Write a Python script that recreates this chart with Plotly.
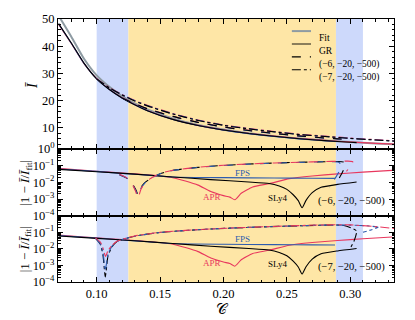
import plotly.graph_objects as go
from plotly.subplots import make_subplots

# shaded compactness bands
blue_band_1 = [0.100, 0.125]
orange_band = [0.125, 0.2887]
blue_band_2 = [0.2887, 0.310]

# ---- top panel: I-bar vs compactness ----
c_fit = [0.07, 0.08, 0.09, 0.10, 0.11, 0.12, 0.13, 0.14, 0.16, 0.18, 0.20, 0.22, 0.24, 0.26, 0.28, 0.30, 0.32, 0.335]
ibar_fit = [51.2, 43.5, 35.4, 29.3, 25.1, 21.7, 19.0, 16.8, 13.45, 11.1, 9.4, 8.05, 7.0, 6.1, 5.4, 4.8, 4.3, 4.0]

c_gr_apr = [0.07, 0.08, 0.09, 0.10, 0.11, 0.12, 0.13, 0.14, 0.16, 0.18, 0.20, 0.22, 0.24, 0.26, 0.28, 0.30, 0.32, 0.335]
ibar_gr_apr = [48.0, 41.0, 33.6, 28.1, 24.2, 21.1, 18.6, 16.4, 13.2, 10.95, 9.3, 8.0, 7.0, 6.15, 5.45, 4.85, 4.35, 4.05]
c_gr_fps = [0.07, 0.08, 0.09, 0.10, 0.11, 0.12, 0.13, 0.14, 0.16, 0.18, 0.20, 0.22, 0.24, 0.26, 0.28, 0.288]
ibar_gr_fps = [48.2, 41.1, 33.7, 28.0, 24.1, 21.0, 18.5, 16.3, 13.1, 10.9, 9.2, 7.9, 6.85, 6.0, 5.3, 5.05]
c_gr_sly = [0.07, 0.08, 0.09, 0.10, 0.11, 0.12, 0.13, 0.14, 0.16, 0.18, 0.20, 0.22, 0.24, 0.26, 0.28, 0.30, 0.305]
ibar_gr_sly = [48.3, 41.2, 33.8, 28.0, 24.1, 21.0, 18.5, 16.35, 13.15, 10.9, 9.25, 7.95, 6.95, 6.05, 5.35, 4.75, 4.62]

c_m6 = [0.12, 0.13, 0.14, 0.16, 0.18, 0.20, 0.22, 0.24, 0.26, 0.28, 0.29, 0.295]
ibar_m6_apr = [21.2, 18.9, 17.1, 14.3, 12.1, 10.4, 9.1, 8.05, 7.1, 6.35, 6.05, 5.9]
ibar_m6_fps = [21.1, 18.8, 17.0, 14.2, 12.0, 10.3, 9.0, 7.95, 7.0, 6.25, 5.95, 5.85]
ibar_m6_sly = [21.0, 18.85, 17.05, 14.25, 12.05, 10.35, 9.05, 8.0, 7.05, 6.3, 6.0, 5.88]

c_m7 = [0.10, 0.11, 0.12, 0.13, 0.14, 0.16, 0.18, 0.20, 0.22, 0.24, 0.26, 0.28, 0.30, 0.32, 0.335]
ibar_m7_apr = [28.1, 24.9, 22.3, 20.1, 18.3, 15.3, 12.9, 11.1, 9.8, 8.7, 7.7, 7.0, 6.3, 5.7, 5.3]
ibar_m7_fps = [28.0, 24.8, 22.2, 20.0, 18.2, 15.2, 12.8, 11.0, 9.7, 8.6, 7.6, 6.9, 6.2, 5.6, 5.2]
ibar_m7_sly = [28.0, 24.7, 22.1, 19.9, 18.1, 15.1, 12.75, 10.95, 9.65, 8.55, 7.55, 6.85, 6.15, 5.55, 5.15]

# ---- relative error of GR curves w.r.t. fit ----
c_err_apr = [0.07, 0.09, 0.11, 0.13, 0.15, 0.16, 0.17, 0.18, 0.19, 0.20, 0.205, 0.209, 0.214, 0.223, 0.236, 0.252, 0.27, 0.29, 0.31, 0.333]
err_gr_apr = [0.068, 0.052, 0.041, 0.032, 0.024, 0.019, 0.012, 0.0068, 0.0028, 0.0016, 0.0013, 0.0009, 0.0022, 0.0053, 0.0083, 0.0166, 0.024, 0.032, 0.041, 0.052]
c_err_fps = [0.07, 0.10, 0.12, 0.14, 0.16, 0.20, 0.24, 0.27, 0.288]
err_gr_fps = [0.063, 0.045, 0.034, 0.027, 0.021, 0.019, 0.018, 0.0175, 0.0172]
c_err_sly = [0.07, 0.10, 0.13, 0.16, 0.19, 0.22, 0.236, 0.244, 0.25, 0.255, 0.259, 0.262, 0.265, 0.27, 0.277, 0.29, 0.305]
err_gr_sly = [0.06, 0.043, 0.031, 0.021, 0.0145, 0.0105, 0.0085, 0.006, 0.0038, 0.0018, 0.0008, 0.0003, 0.0008, 0.0024, 0.005, 0.0075, 0.0105]

# (-6, -20, -500): branches off GR near C = 0.12
c_e6_apr = [0.118, 0.124, 0.128, 0.131, 0.1325, 0.135, 0.138, 0.142, 0.15, 0.16, 0.18, 0.20, 0.22, 0.24, 0.26, 0.28, 0.292, 0.298, 0.302, 0.302, 0.299, 0.297]
err_e6_apr = [0.030, 0.018, 0.008, 0.0025, 0.0011, 0.004, 0.009, 0.016, 0.034, 0.053, 0.08, 0.105, 0.126, 0.145, 0.16, 0.175, 0.183, 0.185, 0.17, 0.12, 0.07, 0.045]
c_e6_fps = [0.118, 0.124, 0.128, 0.131, 0.1325, 0.135, 0.138, 0.142, 0.15, 0.16, 0.18, 0.20, 0.22, 0.24, 0.26, 0.28, 0.287, 0.291, 0.293, 0.290, 0.2835]
err_e6_fps = [0.028, 0.017, 0.008, 0.003, 0.0016, 0.0045, 0.009, 0.016, 0.033, 0.051, 0.078, 0.102, 0.123, 0.142, 0.156, 0.17, 0.172, 0.16, 0.10, 0.03, 0.005]
c_e6_sly = [0.118, 0.124, 0.128, 0.131, 0.1325, 0.135, 0.138, 0.142, 0.15, 0.16, 0.18, 0.20, 0.22, 0.24, 0.26, 0.28, 0.29, 0.295, 0.296, 0.293, 0.289]
err_e6_sly = [0.028, 0.017, 0.0085, 0.0035, 0.002, 0.005, 0.0095, 0.016, 0.033, 0.052, 0.079, 0.103, 0.124, 0.143, 0.158, 0.172, 0.176, 0.16, 0.10, 0.03, 0.009]

# (-7, -20, -500): branches off GR near C = 0.10
c_e7_apr = [0.099, 0.103, 0.105, 0.107, 0.109, 0.112, 0.116, 0.13, 0.15, 0.17, 0.19, 0.22, 0.25, 0.28, 0.30, 0.32, 0.335]
err_e7_apr = [0.046, 0.025, 0.011, 0.0035, 0.008, 0.016, 0.029, 0.06, 0.1, 0.13, 0.16, 0.2, 0.24, 0.28, 0.28, 0.22, 0.17]
c_e7_fps = [0.099, 0.103, 0.105, 0.1068, 0.109, 0.112, 0.116, 0.13, 0.15, 0.17, 0.19, 0.22, 0.25, 0.28, 0.30, 0.315, 0.322, 0.31]
err_e7_fps = [0.045, 0.02, 0.006, 0.0005, 0.005, 0.014, 0.028, 0.058, 0.098, 0.128, 0.158, 0.198, 0.235, 0.27, 0.27, 0.24, 0.2, 0.1]
c_e7_sly = [0.099, 0.103, 0.105, 0.1068, 0.109, 0.112, 0.116, 0.13, 0.15, 0.17, 0.19, 0.22, 0.25, 0.28, 0.295, 0.305, 0.303, 0.300]
err_e7_sly = [0.044, 0.018, 0.004, 0.0002, 0.004, 0.013, 0.028, 0.058, 0.098, 0.128, 0.158, 0.198, 0.235, 0.27, 0.26, 0.12, 0.03, 0.011]

legend_names = ["Fit", "GR", "(−6, −20, −500)", "(−7, −20, −500)"]

RED = "#e8375e"
BLUE = "#2e5cae"
BLACK = "#000000"
GREY = "#8e9ba3"
FONT = "Liberation Serif"

fig = make_subplots(rows=3, cols=1, shared_xaxes=True, vertical_spacing=0,
                    row_heights=[0.494, 0.254, 0.252])


def line(x, y, color, dash="solid", width=1.1, row=1):
    fig.add_trace(go.Scatter(x=x, y=y, mode="lines", showlegend=False, hoverinfo="skip",
                             line=dict(color=color, dash=dash, width=width, shape="spline", smoothing=0.5)),
                  row=row, col=1)


# top panel
line(c_fit, ibar_fit, GREY, width=2)
for c, v, col in [(c_gr_apr, ibar_gr_apr, RED), (c_gr_fps, ibar_gr_fps, BLUE), (c_gr_sly, ibar_gr_sly, BLACK)]:
    line(c, v, col)
for v, col in [(ibar_m6_apr, RED), (ibar_m6_fps, BLUE), (ibar_m6_sly, BLACK)]:
    line(c_m6, v, col, dash="dash")
for v, col in [(ibar_m7_apr, RED), (ibar_m7_fps, BLUE), (ibar_m7_sly, BLACK)]:
    line(c_m7, v, col, dash="dashdot")

# error panels
for row in (2, 3):
    line(c_err_apr, err_gr_apr, RED, row=row)
    line(c_err_fps, err_gr_fps, BLUE, row=row)
    line(c_err_sly, err_gr_sly, BLACK, row=row)
for c, v, col in [(c_e6_sly, err_e6_sly, BLACK), (c_e6_fps, err_e6_fps, BLUE), (c_e6_apr, err_e6_apr, RED)]:
    line(c, v, col, dash="dash", row=2)
for c, v, col in [(c_e7_sly, err_e7_sly, BLACK), (c_e7_fps, err_e7_fps, BLUE), (c_e7_apr, err_e7_apr, RED)]:
    line(c, v, col, dash="dashdot", row=3)

# bands (added after traces so that every subplot gets them)
for x0, x1, col in [(blue_band_1[0], blue_band_1[1], "#cdd9fb"),
                    (orange_band[0], orange_band[1], "#fee6a6"),
                    (blue_band_2[0], blue_band_2[1], "#cdd9fb")]:
    fig.add_vrect(x0=x0, x1=x1, fillcolor=col, opacity=1, line_width=0, layer="below", row="all", col=1)

# hand-drawn legend (no frame, tight rows as in the original)
leg_styles = [(GREY, "solid", 2), ("rgba(0,0,0,0.45)", "solid", 2), (BLACK, "dash", 1.2), (BLACK, "dashdot", 1.2)]
for i, (name, (col, dash, w)) in enumerate(zip(legend_names, leg_styles)):
    yy = 0.954 - i * 0.049
    fig.add_shape(type="line", xref="paper", yref="paper", x0=0.696, x1=0.753, y0=yy, y1=yy,
                  line=dict(color=col, dash=dash, width=w))
    fig.add_annotation(text=name, xref="paper", yref="paper", x=0.77, y=yy, xanchor="left",
                       showarrow=False, font=dict(size=9.5, color="black"))

axis_common = dict(showline=True, linecolor="black", linewidth=1, mirror="allticks", automargin=False,
                   ticks="inside", ticklen=5, tickcolor="black", showgrid=False, zeroline=False)
minor_common = dict(ticks="inside", ticklen=2.5, tickcolor="black", showgrid=False)

for r in (1, 2, 3):
    fig.update_xaxes(range=[0.0695, 0.3345], dtick=0.05, tick0=0, minor=dict(dtick=0.01, **minor_common),
                     showticklabels=(r == 3), tickformat=".2f", row=r, col=1, **axis_common)

fig.update_yaxes(range=[2.3, 50], tickvals=[10, 20, 30, 40, 50], minor=dict(dtick=2, **minor_common),
                 row=1, col=1, **axis_common)

log_minor = [m * 10 ** e for e in range(-4, 0) for m in range(2, 10)]
fig.update_yaxes(type="log", range=[-4, 0], tickvals=[1, 0.1, 0.01, 0.001, 0.0001],
                 ticktext=["10<sup>0</sup>", "10<sup>−1</sup>", "10<sup>−2</sup>", "10<sup>−3</sup>", "10<sup>−4</sup>"],
                 minor=dict(tickvals=log_minor, **minor_common), row=2, col=1, **axis_common)
fig.update_yaxes(type="log", range=[-4, 0], tickvals=[0.1, 0.01, 0.001, 0.0001],
                 ticktext=["10<sup>−1</sup>", "10<sup>−2</sup>", "10<sup>−3</sup>", "10<sup>−4</sup>"],
                 minor=dict(tickvals=log_minor, **minor_common), row=3, col=1, **axis_common)

# axis titles as annotations (keeps the margins fixed)
fig.add_annotation(text="𝒞", xref="paper", yref="paper", x=0.491, y=-0.141, showarrow=False,
                   font=dict(size=15, color="black"))
fig.add_annotation(text="<i>Ī</i>", xref="paper", yref="paper", x=-0.104, y=0.768, showarrow=False,
                   textangle=-90, font=dict(size=14, color="black"))

err_label = "|1 − <i>Ī</i>/<i>Ī</i><sub>fit</sub>|"
for yref in ("y2 domain", "y3 domain"):
    fig.add_annotation(text=err_label, xref="paper", yref=yref, x=-0.128, y=0.5, textangle=-90,
                       showarrow=False, font=dict(size=13, color="black"))

for yref, lab, dy in (("y2", "(−6, −20, −500)", 0.0), ("y3", "(−7, −20, −500)", 0.05)):
    fig.add_annotation(text=lab, x=0.3008, y=-3.12 + dy, xref="x", yref=yref,
                       showarrow=False, font=dict(size=10.5, color="black"))
    fig.add_annotation(text="FPS", x=0.215, y=-1.47 + dy, xref="x", yref=yref, showarrow=False,
                       font=dict(size=9, color=BLUE))
    fig.add_annotation(text="APR", x=0.1906, y=-2.88 + dy, xref="x", yref=yref, showarrow=False,
                       font=dict(size=9, color=RED))
    fig.add_annotation(text="SLy4", x=0.2433, y=-2.94 + dy, xref="x", yref=yref, showarrow=False,
                       font=dict(size=9, color="black"))

fig.update_layout(
    width=415, height=320,
    margin=dict(l=58, r=21, t=19, b=38),
    paper_bgcolor="white", plot_bgcolor="white",
    font=dict(family=FONT, size=12.5, color="black"),
    showlegend=False,
)

# drop the browser's default body margin so the figure sits at the window origin
fig.write_html("out.html", config={"displayModeBar": False},
               post_script="document.body.style.margin='0';")
